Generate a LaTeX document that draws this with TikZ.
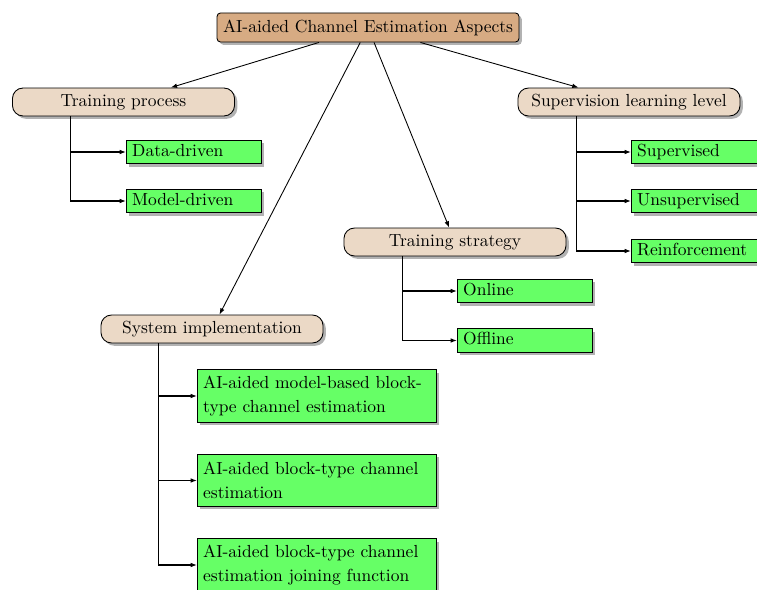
\documentclass[tikz,border=0pt]{standalone}
\usetikzlibrary{shadows,arrows.meta}

\definecolor{rootfill}{RGB}{215,171,131}
\definecolor{groupfill}{RGB}{235,217,198}
\definecolor{leaffill}{RGB}{102,255,102}

\tikzset{
  shade/.style={drop shadow={shadow xshift=1.6pt,shadow yshift=-1.6pt,opacity=0.3,fill=black}},
  rootbox/.style={draw,line width=0.5pt,fill=rootfill,rounded corners=2pt,shade,
    minimum width=172.7pt,minimum height=16.6pt,inner sep=0pt},
  groupbox/.style={draw,line width=0.5pt,fill=groupfill,rounded corners=6pt,shade,
    minimum width=127pt,minimum height=16pt,inner sep=0pt},
  leafbox/.style={draw,line width=0.5pt,fill=leaffill,shade,anchor=west,
    text width=70.6pt,text height=7pt,text depth=2pt,inner ysep=2.2pt,
    inner xsep=3.3pt,align=left},
  longleaf/.style={draw,line width=0.5pt,fill=leaffill,shade,anchor=west,
    text width=130pt,inner xsep=3.3pt,inner ysep=3.5pt,minimum height=29.7pt,
    align=left,font=\fontsize{10}{13.7}\selectfont},
  link/.style={line width=0.5pt,-{Latex[length=3.6pt,width=2.6pt]}},
  branch/.style={line width=0.6pt,-{Latex[length=3.6pt,width=2.6pt]}}
}

\begin{document}
\begin{tikzpicture}[x=0.572pt,y=-0.572pt]
  \clip (0,0) rectangle (757,590);

  % top level
  \node[rootbox] (root) at (368,27.5) {AI-aided Channel Estimation Aspects};

  % aspect groups
  \node[groupbox] (tp) at (123.5,102) {Training process};
  \node[groupbox] (sl) at (629,102) {Supervision learning level};
  \node[groupbox] (ts) at (455,242) {Training strategy};
  \node[groupbox] (si) at (212,329) {System implementation};

  % training process
  \node[leafbox] (dd) at (126,152) {Data-driven};
  \node[leafbox] (md) at (126,201) {Model-driven};

  % supervision learning level
  \node[leafbox] (sup) at (631,152) {Supervised};
  \node[leafbox] (uns) at (631,201) {Unsupervised};
  \node[leafbox] (rei) at (631,251) {Reinforcement};

  % training strategy
  \node[leafbox] (on) at (457,291) {Online};
  \node[leafbox] (off) at (457,340.5) {Offline};

  % system implementation
  \node[longleaf] (b1) at (197,396) {AI-aided model-based block-\\type channel estimation};
  \node[longleaf] (b2) at (197,480.5) {AI-aided block-type channel\\estimation};
  \node[longleaf] (b3) at (197,565) {AI-aided block-type channel\\estimation joining function};

  % root to groups
  \draw[link] (root) -- (tp);
  \draw[link] (root) -- (sl);
  \draw[link] (root) -- (ts);
  \draw[link] (root) -- (si);

  % groups to leaves
  \draw[branch] ([xshift=33.7pt]tp.south west) |- (dd.west);
  \draw[branch] ([xshift=33.7pt]tp.south west) |- (md.west);
  \draw[branch] ([xshift=33.7pt]sl.south west) |- (sup.west);
  \draw[branch] ([xshift=33.7pt]sl.south west) |- (uns.west);
  \draw[branch] ([xshift=33.7pt]sl.south west) |- (rei.west);
  \draw[branch] ([xshift=33.7pt]ts.south west) |- (on.west);
  \draw[branch] ([xshift=33.7pt]ts.south west) |- (off.west);
  \draw[branch] ([xshift=33.2pt]si.south west) |- (b1.west);
  \draw[branch] ([xshift=33.2pt]si.south west) |- (b2.west);
  \draw[branch] ([xshift=33.2pt]si.south west) |- (b3.west);
\end{tikzpicture}
\end{document}
